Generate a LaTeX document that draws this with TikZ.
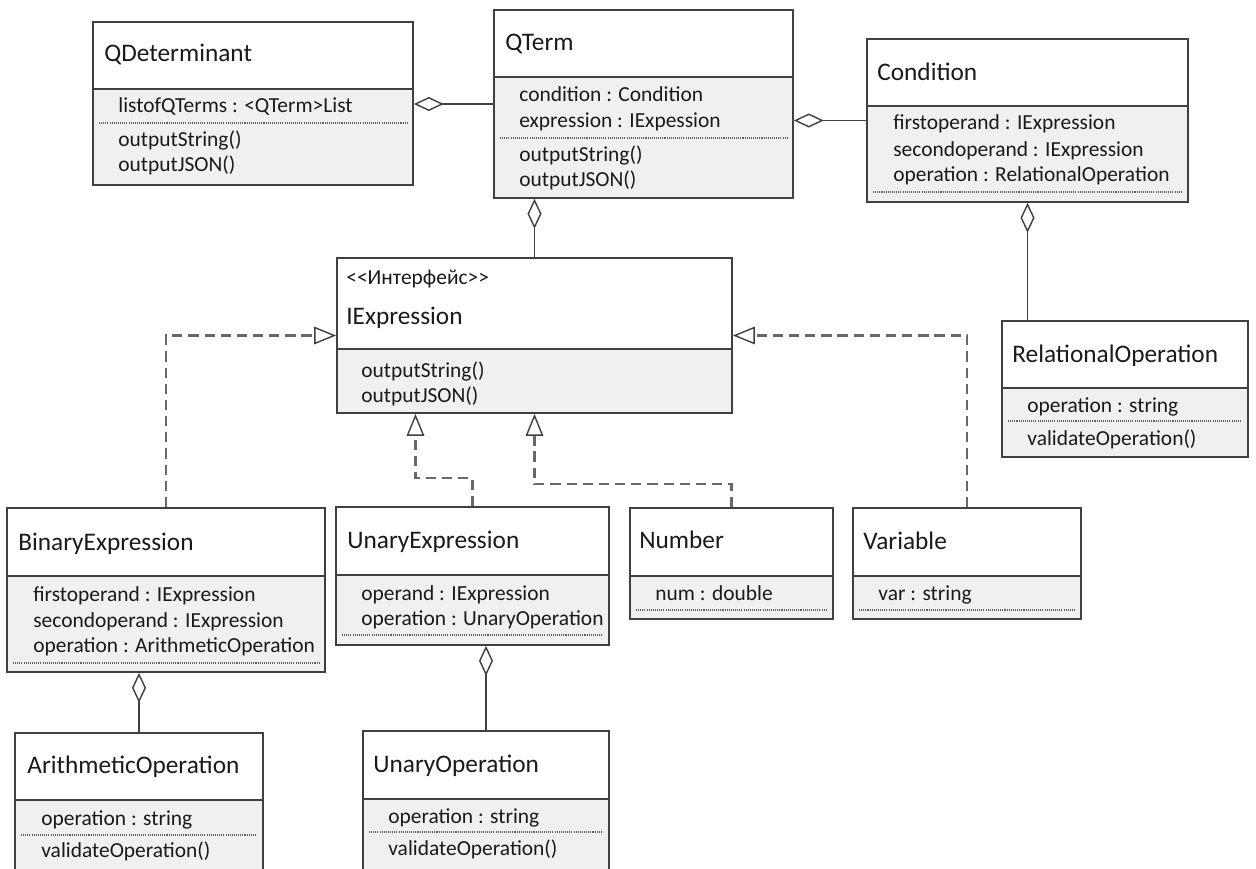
\documentclass[tikz,border=0pt]{standalone}
\usepackage{fontspec}
\setmainfont{Carlito}
\usetikzlibrary{fit,calc,arrows.meta}

\definecolor{framecol}{HTML}{404040}
\definecolor{compfill}{HTML}{F0F0F0}
\definecolor{dashcol}{HTML}{686868}
\definecolor{textcol}{HTML}{1A1A1A}
\definecolor{dotcol}{HTML}{606060}

\tikzset{
  classframe/.style={draw=framecol, line width=1pt, inner sep=0pt},
  frameline/.style={draw=framecol, line width=1pt},
  dotline/.style={draw=dotcol, line width=0.6pt, dash pattern=on 0.6pt off 0.6pt},
  titletext/.style={anchor=base west, inner sep=0pt, text=textcol, font=\fontsize{14.4}{16}\selectfont},
  membertext/.style={anchor=base west, inner sep=0pt, text=textcol, font=\fontsize{12.2}{14}\selectfont},
  aggline/.style={draw=framecol, line width=0.8pt,
    {Diamond[open, length=17pt, width=8pt, color=framecol]}-},
  realline/.style={draw=dashcol, line width=1.3pt, dash pattern=on 5.8pt off 3.4pt,
    -{Triangle[open, length=12.5pt, width=10pt, color=framecol, line width=0.8pt]}},
}

% class box: name, x1, y1, x2, y2, y of the compartment line
\newcommand\umlbox[6]{%
  \fill[compfill] (#2,#6) rectangle (#4,#5);
  \node[classframe, fit={(#2,#3) (#4,#5)}] (#1) {};
  \draw[frameline] (#1.west |- 0,#6) -- (#1.east |- 0,#6);
}
% dotted separator between attributes and operations: x1, x2, y
\newcommand\dotsep[3]{%
  \draw[dotline] (#1+6,#3) -- (#2-6,#3);
}

\begin{document}
\begin{tikzpicture}[x=0.02cm, y=-0.02cm]
\path[use as bounding box, clip] (0,0) rectangle (1256,868);
\fill[white] (0,0) rectangle (1256,868);

% QDeterminant
\umlbox{qdet}{93}{22}{413}{185}{89}
\dotsep{93}{413}{123}
\node[titletext] (qdet-t) at (104,62) {QDeterminant};
\node[membertext] (qdet-a1) at (118,113) {listofQTerms : <QTerm>List};
\node[membertext] (qdet-m1) at (118,147) {outputString()};
\node[membertext] (qdet-m2) at (118,172) {outputJSON()};

% QTerm
\umlbox{qterm}{494}{10}{793}{198}{77}
\dotsep{494}{793}{138}
\node[titletext] (qterm-t) at (505,51) {QTerm};
\node[membertext] (qterm-a1) at (519,102) {condition : Condition};
\node[membertext] (qterm-a2) at (519,128) {expression : IExpession};
\node[membertext] (qterm-m1) at (519,162) {outputString()};
\node[membertext] (qterm-m2) at (519,187) {outputJSON()};

% Condition
\umlbox{cond}{867}{39}{1188}{202}{106}
\dotsep{867}{1188}{192}
\node[titletext] (cond-t) at (877,81) {Condition};
\node[membertext] (cond-a1) at (893,130) {firstoperand : IExpression};
\node[membertext] (cond-a2) at (893,156) {secondoperand : IExpression};
\node[membertext] (cond-a3) at (893,181) {operation : RelationalOperation};

% IExpression interface
\umlbox{iexpr}{337}{258}{732}{413}{349}
\node[membertext] (iexpr-s) at (346,284) {<{}<Интерфейс>{}>};
\node[titletext] (iexpr-t) at (346,324) {IExpression};
\node[membertext] (iexpr-m1) at (361,377) {outputString()};
\node[membertext] (iexpr-m2) at (361,402) {outputJSON()};

% RelationalOperation
\umlbox{rel}{1002}{321}{1248}{457}{388}
\dotsep{1002}{1248}{421}
\node[titletext] (rel-t) at (1012,362) {RelationalOperation};
\node[membertext] (rel-a1) at (1027,412) {operation : string};
\node[membertext] (rel-m1) at (1027,445) {validateOperation()};

% BinaryExpression
\umlbox{binexpr}{7}{508}{325}{672}{576}
\dotsep{7}{325}{663}
\node[titletext] (binexpr-t) at (18,550) {BinaryExpression};
\node[membertext] (binexpr-a1) at (33,601) {firstoperand : IExpression};
\node[membertext] (binexpr-a2) at (33,627) {secondoperand : IExpression};
\node[membertext] (binexpr-a3) at (33,652) {operation : ArithmeticOperation};

% UnaryExpression
\umlbox{unexpr}{336}{507}{609}{645}{575}
\dotsep{336}{609}{635}
\node[titletext] (unexpr-t) at (347,548) {UnaryExpression};
\node[membertext] (unexpr-a1) at (361,600) {operand : IExpression};
\node[membertext] (unexpr-a2) at (361,625) {operation : UnaryOperation};

% Number
\umlbox{number}{630}{508}{833}{619}{576}
\dotsep{630}{833}{610}
\node[titletext] (number-t) at (639,548) {Number};
\node[membertext] (number-a1) at (655,600) {num : double};

% Variable
\umlbox{var}{853}{508}{1081}{619}{576}
\dotsep{853}{1081}{610}
\node[titletext] (var-t) at (863,549) {Variable};
\node[membertext] (var-a1) at (878,600) {var : string};

% ArithmeticOperation
\umlbox{arith}{15}{733}{263}{882}{800}
\dotsep{15}{263}{835}
\node[titletext] (arith-t) at (27,773) {ArithmeticOperation};
\node[membertext] (arith-a1) at (41,825) {operation : string};
\node[membertext] (arith-m1) at (41,857) {validateOperation()};

% UnaryOperation
\umlbox{unop}{363}{731}{609}{882}{799}
\dotsep{363}{609}{832}
\node[titletext] (unop-t) at (373,772) {UnaryOperation};
\node[membertext] (unop-a1) at (388,823) {operation : string};
\node[membertext] (unop-m1) at (388,855) {validateOperation()};

% aggregations
\draw[aggline] (qterm.west -| qdet.east) -- (qterm.west);
\draw[aggline] (cond.west -| qterm.east) -- (cond.west);
\draw[aggline] (iexpr.north |- qterm.south) -- (iexpr.north);
\draw[aggline] (cond.south) -- (cond.south |- rel.north);
\draw[aggline] (arith.north |- binexpr.south) -- (arith.north);
\draw[aggline] (unop.north |- unexpr.south) -- (unop.north);

% realizations of the interface
\draw[realline] (binexpr.north) |- (iexpr.west);
\draw[realline] (var.north) |- (iexpr.east);
\draw[realline] (unexpr.north) -- ++(0,-28) -| ($(iexpr.south west)!0.2!(iexpr.south east)$);
\draw[realline] (number.north) -- ++(0,-23) -| (iexpr.south);
\end{tikzpicture}
\end{document}
